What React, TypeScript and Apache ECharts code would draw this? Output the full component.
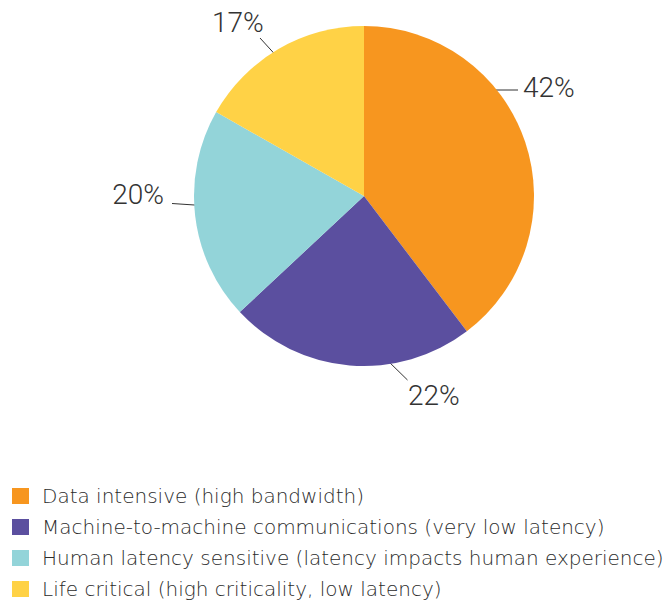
import React, { useEffect, useRef } from "react";
import * as echarts from "echarts";

const categories = [
  "Data intensive (high bandwidth)",
  "Machine-to-machine communications (very low latency)",
  "Human latency sensitive (latency impacts human experience)",
  "Life critical (high criticality, low latency)",
];
// slice sizes as drawn in the picture
const shares = [39.7, 23.4, 20.2, 16.8];
// percentages printed next to the slices
const shareLabels = ["42%", "22%", "20%", "17%"];
const colors = ["#F7961F", "#5B4F9F", "#93D4D9", "#FFD246"];

// label placement (pixels): text anchor + leader-line points
const labelPlacement = [
  { x: 523, y: 87, align: "left", line: [[487, 90], [518, 90]] },
  { x: 408, y: 395, align: "left", line: [[386.5, 359.5], [407.5, 380]] },
  { x: 164, y: 194, align: "right", line: [[172, 203.5], [202, 205.5]] },
  { x: 212, y: 22, align: "left", line: [[260, 38], [281, 61]] },
];

const LABEL_FONT = "Roboto";
const LEGEND_FONT = "DejaVu Sans";

export default function App() {
  const ref = useRef<HTMLDivElement>(null);
  useEffect(() => {
    if (!ref.current) return;
    const chart = echarts.init(ref.current, null, { renderer: "svg" });
    chart.setOption({
      animation: false,
      backgroundColor: "#ffffff",
      legend: {
        orient: "vertical",
        left: 12,
        top: 486,
        height: 117,
        padding: 0,
        icon: "rect",
        itemWidth: 17,
        itemHeight: 16,
        itemGap: 11,
        selectedMode: false,
        data: categories,
        textStyle: {
          fontFamily: LEGEND_FONT,
          fontWeight: 200,
          fontSize: 20,
          lineHeight: 20,
          color: "#2b2b2b",
          padding: [0, 0, 0, 8],
        },
      },
      series: [
        {
          type: "pie",
          center: [364, 196],
          radius: 170,
          startAngle: 90,
          clockwise: true,
          silent: true,
          data: categories.map((name, i) => ({
            name,
            value: shares[i],
            itemStyle: { color: colors[i] },
            label: { formatter: shareLabels[i] },
          })),
          label: {
            show: true,
            position: "outside",
            fontFamily: LABEL_FONT,
            fontWeight: 300,
            fontSize: 28,
            color: "#333333",
          },
          labelLine: {
            show: true,
            length: 10,
            length2: 10,
            lineStyle: { color: "#333333", width: 1 },
          },
          labelLayout: (params: any) => {
            const p = labelPlacement[params.dataIndex];
            return {
              x: p.x,
              y: p.y,
              align: p.align,
              verticalAlign: "middle",
              labelLinePoints: p.line,
            };
          },
        },
      ],
    });
    return () => chart.dispose();
  }, []);
  return (
    <div
      ref={ref}
      style={{ position: "fixed", left: 0, top: 0, width: 663, height: 603 }}
    />
  );
}
